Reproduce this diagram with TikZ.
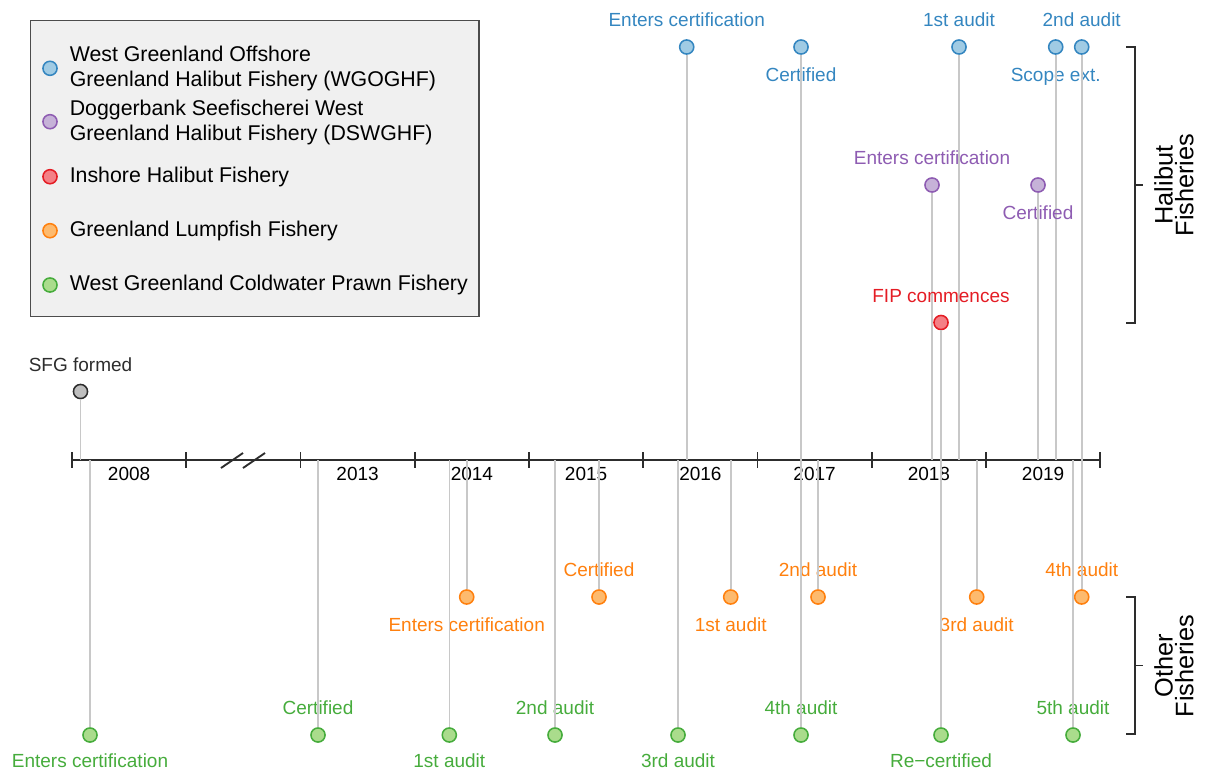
\documentclass[tikz,border=0pt]{standalone}
\usepackage{fontspec}
\setmainfont{Liberation Sans}
\usepackage{tikz}
\usetikzlibrary{positioning}
\definecolor{dotBlue}{RGB}{160,203,228}
\definecolor{lineBlue}{RGB}{52,134,192}
\definecolor{dotPurple}{RGB}{198,178,216}
\definecolor{linePurple}{RGB}{142,92,178}
\definecolor{dotRed}{RGB}{244,128,134}
\definecolor{lineRed}{RGB}{228,28,36}
\definecolor{dotOrange}{RGB}{253,186,110}
\definecolor{lineOrange}{RGB}{255,128,14}
\definecolor{dotGreen}{RGB}{170,220,140}
\definecolor{lineGreen}{RGB}{70,172,60}
\definecolor{dotGrey}{RGB}{190,190,190}
\definecolor{stemGrey}{RGB}{200,200,200}
\definecolor{axisGrey}{RGB}{45,45,45}
\definecolor{legFill}{RGB}{240,240,240}
\newcommand{\labsize}{\fontsize{14.25}{17}\selectfont}
\newcommand{\legsize}{\fontsize{16}{19}\selectfont}
\newcommand{\grpsize}{\fontsize{19}{15.5}\selectfont}
\tikzset{
  evdot/.style={circle, inner sep=0pt, minimum size=10.6pt, line width=1.15pt},
  bluedot/.style={evdot, fill=dotBlue, draw=lineBlue},
  purpledot/.style={evdot, fill=dotPurple, draw=linePurple},
  reddot/.style={evdot, fill=dotRed, draw=lineRed},
  orangedot/.style={evdot, fill=dotOrange, draw=lineOrange},
  greendot/.style={evdot, fill=dotGreen, draw=lineGreen},
  greydot/.style={evdot, fill=dotGrey, draw=axisGrey},
  stem/.style={draw=stemGrey, line width=1.2pt},
  axisline/.style={draw=axisGrey, line width=1.4pt},
  lab/.style={inner sep=0pt, text height=10pt, text depth=0pt, font=\labsize},
  labup/.style={lab, above=9.2pt of #1},
  labdown/.style={lab, below=9.7pt of #1},
  labbottom/.style={lab, below=8.2pt of #1},
  legtext/.style={anchor=west, inner sep=0pt, align=left, font=\legsize},
  grplab/.style={rotate=90, align=center, inner sep=0pt, font=\grpsize}
}
\begin{document}
\begin{tikzpicture}[x=0.75pt, y=-0.75pt]
  \useasboundingbox (0,0) rectangle (1206,771);

  % timeline axis
  \coordinate (axL) at (72,460);
  \coordinate (axR) at (1100.25,460);
  \draw[axisline] (axL) -- (axR);
  \draw[axisline] (72,452) -- (72,468);
  \draw[axisline] (186.25,452) -- (186.25,468);
  \draw[axisline] (300.5,452) -- (300.5,468);
  \draw[axisline] (414.75,452) -- (414.75,468);
  \draw[axisline] (529,452) -- (529,468);
  \draw[axisline] (643.25,452) -- (643.25,468);
  \draw[axisline] (757.5,452) -- (757.5,468);
  \draw[axisline] (871.75,452) -- (871.75,468);
  \draw[axisline] (986,452) -- (986,468);
  \draw[axisline] (1100.25,452) -- (1100.25,468);
  \draw[axisline] (221,468) -- (243,453);             % axis break
  \draw[axisline] (243,468) -- (265,453);

  % years
  \node[lab, anchor=base] (y2008) at (129.1,480) {2008};
  \node[lab, anchor=base] (y2013) at (357.6,480) {2013};
  \node[lab, anchor=base] (y2014) at (471.9,480) {2014};
  \node[lab, anchor=base] (y2015) at (586.1,480) {2015};
  \node[lab, anchor=base] (y2016) at (700.4,480) {2016};
  \node[lab, anchor=base] (y2017) at (814.6,480) {2017};
  \node[lab, anchor=base] (y2018) at (928.9,480) {2018};
  \node[lab, anchor=base] (y2019) at (1043.1,480) {2019};

  % SFG
  \node[greydot] (sfg) at (80.5,391.5) {};
  \node[labup=sfg, text=axisGrey] (sfgt) {SFG formed};
  \draw[stem] (sfg) -- (sfg |- axL);

  % WGOGHF (blue)
  \node[bluedot] (b1) at (686.7,47) {};
  \node[bluedot] (b2) at (801,47) {};
  \node[bluedot] (b3) at (959,47) {};
  \node[bluedot] (b4) at (1055.7,47) {};
  \node[bluedot] (b5) at (1081.7,47) {};
  \node[labup=b1, text=lineBlue] (b1t) {Enters certification};
  \node[labdown=b2, text=lineBlue] (b2t) {Certified};
  \node[labup=b3, text=lineBlue] (b3t) {1st audit};
  \node[labdown=b4, text=lineBlue] (b4t) {Scope ext.};
  \node[labup=b5, text=lineBlue] (b5t) {2nd audit};
  \draw[stem] (b1) -- (b1 |- axL);
  \draw[stem] (b2) -- (b2 |- axL);
  \draw[stem] (b3) -- (b3 |- axL);
  \draw[stem] (b4) -- (b4 |- axL);
  \draw[stem] (b5) -- (b5 |- axL);

  % DSWGHF (purple)
  \node[purpledot] (p1) at (932,185) {};
  \node[purpledot] (p2) at (1038,185) {};
  \node[labup=p1, text=linePurple] (p1t) {Enters certification};
  \node[labdown=p2, text=linePurple] (p2t) {Certified};
  \draw[stem] (p1) -- (p1 |- axL);
  \draw[stem] (p2) -- (p2 |- axL);

  % inshore halibut (red)
  \node[reddot] (r1) at (941,322.5) {};
  \node[labup=r1, text=lineRed] (r1t) {FIP commences};
  \draw[stem] (r1) -- (r1 |- axL);

  % lumpfish (orange)
  \node[orangedot] (o1) at (466.7,597) {};
  \node[orangedot] (o2) at (599,597) {};
  \node[orangedot] (o3) at (730.7,597) {};
  \node[orangedot] (o4) at (818,597) {};
  \node[orangedot] (o5) at (976.7,597) {};
  \node[orangedot] (o6) at (1081.7,597) {};
  \node[labdown=o1, text=lineOrange] (o1t) {Enters certification};
  \node[labup=o2, text=lineOrange] (o2t) {Certified};
  \node[labdown=o3, text=lineOrange] (o3t) {1st audit};
  \node[labup=o4, text=lineOrange] (o4t) {2nd audit};
  \node[labdown=o5, text=lineOrange] (o5t) {3rd audit};
  \node[labup=o6, text=lineOrange] (o6t) {4th audit};
  \draw[stem] (o1) -- (o1 |- axL);
  \draw[stem] (o2) -- (o2 |- axL);
  \draw[stem] (o3) -- (o3 |- axL);
  \draw[stem] (o4) -- (o4 |- axL);
  \draw[stem] (o5) -- (o5 |- axL);
  \draw[stem] (o6) -- (o6 |- axL);

  % coldwater prawn (green)
  \node[greendot] (g1) at (90,735) {};
  \node[greendot] (g2) at (318,735) {};
  \node[greendot] (g3) at (449.3,735) {};
  \node[greendot] (g4) at (555,735) {};
  \node[greendot] (g5) at (678,735) {};
  \node[greendot] (g6) at (801,735) {};
  \node[greendot] (g7) at (941,735) {};
  \node[greendot] (g8) at (1073,735) {};
  \node[labbottom=g1, text=lineGreen] (g1t) {Enters certification};
  \node[labup=g2, text=lineGreen] (g2t) {Certified};
  \node[labbottom=g3, text=lineGreen] (g3t) {1st audit};
  \node[labup=g4, text=lineGreen] (g4t) {2nd audit};
  \node[labbottom=g5, text=lineGreen] (g5t) {3rd audit};
  \node[labup=g6, text=lineGreen] (g6t) {4th audit};
  \node[labbottom=g7, text=lineGreen] (g7t) {Re−certified};
  \node[labup=g8, text=lineGreen] (g8t) {5th audit};
  \draw[stem] (g1) -- (g1 |- axL);
  \draw[stem] (g2) -- (g2 |- axL);
  \draw[stem] (g3) -- (g3 |- axL);
  \draw[stem] (g4) -- (g4 |- axL);
  \draw[stem] (g5) -- (g5 |- axL);
  \draw[stem] (g6) -- (g6 |- axL);
  \draw[stem] (g7) -- (g7 |- axL);
  \draw[stem] (g8) -- (g8 |- axL);

  % group brackets
  \draw[axisline, line width=1.2pt] (1126,47) -- (1135,47) -- (1135,323) -- (1126,323);
  \draw[axisline, line width=1.2pt] (1135,185) -- (1143,185);
  \node[grplab] (halgrp) at (1174,185) {Halibut\\Fisheries};
  \draw[axisline, line width=1.2pt] (1126,597) -- (1135,597) -- (1135,734) -- (1126,734);
  \draw[axisline, line width=1.2pt] (1135,665.5) -- (1143,665.5);
  \node[grplab] (othgrp) at (1174,666) {Other\\Fisheries};

  % legend
  \draw[fill=legFill, draw=gray!60!black, line width=1.1pt] (30.5,20.5) rectangle (479,316.5);
  \node[bluedot] (kb) at (50,68.3) {};
  \node[legtext] (kbt) at (69.5,68.3) {West Greenland Offshore\\Greenland Halibut Fishery (WGOGHF)};
  \node[purpledot] (kp) at (50,121.7) {};
  \node[legtext] (kpt) at (69.5,122.5) {Doggerbank Seefischerei West\\Greenland Halibut Fishery (DSWGHF)};
  \node[reddot] (kr) at (50,176.7) {};
  \node[legtext] (krt) at (69.5,176.7) {Inshore Halibut Fishery};
  \node[orangedot] (ko) at (50,230.7) {};
  \node[legtext] (kot) at (69.5,230.7) {Greenland Lumpfish Fishery};
  \node[greendot] (kg) at (50,285) {};
  \node[legtext] (kgt) at (69.5,285) {West Greenland Coldwater Prawn Fishery};
\end{tikzpicture}
\end{document}
